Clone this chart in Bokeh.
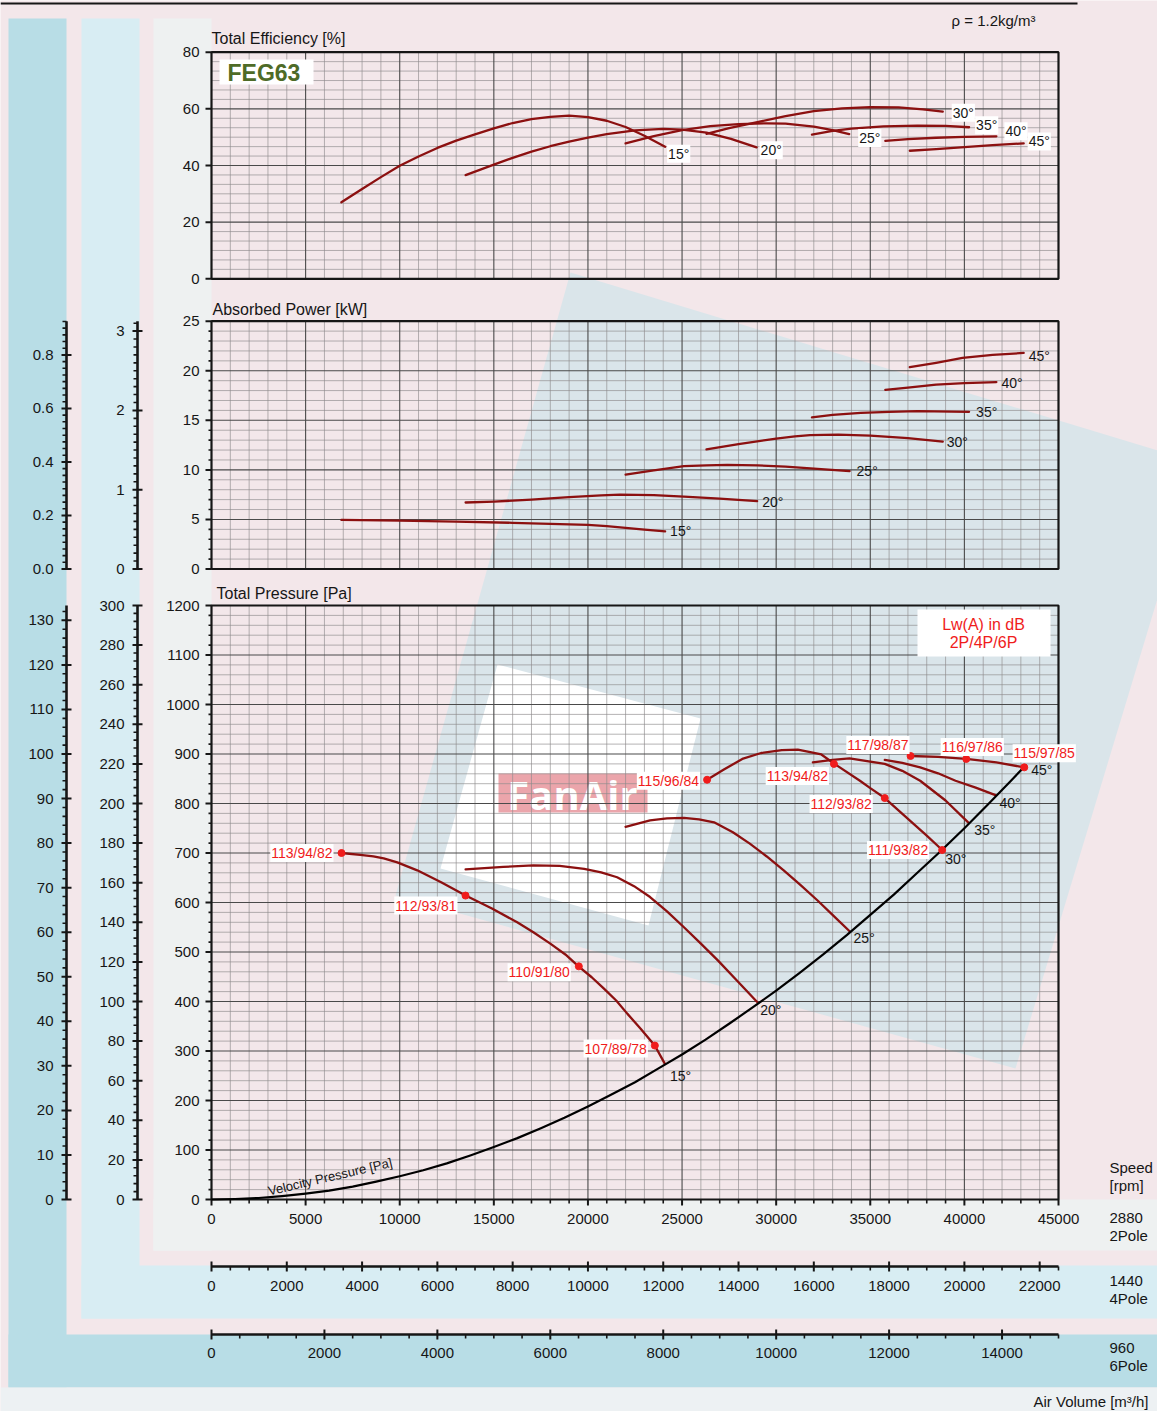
import numpy as np
from bokeh.plotting import figure
from bokeh.models import Range1d
from bokeh.core.properties import value
from bokeh.embed import file_html
from bokeh.resources import INLINE

# ------------------------------------------------------------------ data
# FEG63 axial fan, curves for 2880 rpm (2-pole); air volume q in m³/h
angles = ["15°", "20°", "25°", "30°", "35°", "40°", "45°"]

# total efficiency [%]
eta15_q = [6900, 8000, 9000, 10000, 11000, 12000, 13000, 14000, 15000, 16000, 17000, 18000, 19000,
           20000, 21000, 22000, 23000, 24100]
eta15 = [27.0, 31.7, 35.9, 39.9, 43.2, 46.2, 48.8, 51.0, 53.1, 55.0, 56.4, 57.2, 57.6,
         57.1, 55.8, 53.6, 50.5, 46.6]
eta20_q = [13500, 15000, 16000, 17000, 18000, 19000, 20000, 21000, 22500, 24000, 25000, 26300, 27600, 28960]
eta20 = [36.6, 40.3, 42.7, 44.9, 46.8, 48.4, 49.8, 51.1, 52.4, 52.9, 52.7, 51.6, 49.4, 46.4]
eta25_q = [22000, 23500, 25000, 26500, 28000, 29500, 30500, 32000, 33000, 33880]
eta25 = [47.8, 50.4, 52.5, 53.9, 54.6, 54.9, 54.8, 53.7, 52.5, 51.1]
eta30_q = [26300, 27500, 29000, 30500, 32000, 33500, 35000, 36500, 37800, 38850]
eta30 = [51.2, 53.2, 55.3, 57.4, 59.2, 60.2, 60.6, 60.5, 59.8, 59.0]
eta35_q = [31900, 33000, 34000, 35700, 37500, 39000, 40250]
eta35 = [50.9, 52.2, 53.0, 53.8, 54.1, 54.0, 53.5]
eta40_q = [35800, 37000, 38500, 40000, 41700]
eta40 = [48.7, 49.3, 49.8, 50.1, 50.3]
eta45_q = [37100, 38500, 40000, 41500, 43150]
eta45 = [45.2, 45.8, 46.5, 47.2, 47.8]

# absorbed power [kW]
pw15_q = [6900, 10000, 13000, 16000, 18000, 20000, 21000, 22000, 23000, 24100]
pw15 = [4.95, 4.88, 4.78, 4.66, 4.56, 4.45, 4.32, 4.15, 3.98, 3.80]
pw20_q = [13500, 15000, 17000, 19000, 20700, 21700, 23500, 25100, 27000, 28990]
pw20 = [6.71, 6.80, 7.00, 7.25, 7.42, 7.50, 7.45, 7.31, 7.10, 6.84]
pw25_q = [22000, 23500, 25100, 26300, 27400, 29000, 30500, 32200, 33900]
pw25 = [9.53, 9.95, 10.37, 10.46, 10.50, 10.45, 10.33, 10.10, 9.87]
pw30_q = [26300, 28000, 30000, 31000, 31800, 33300, 35000, 37000, 38850]
pw30 = [12.06, 12.60, 13.15, 13.38, 13.50, 13.55, 13.45, 13.20, 12.86]
pw35_q = [31900, 33000, 34500, 36000, 37500, 40250]
pw35 = [15.30, 15.55, 15.75, 15.85, 15.92, 15.86]
pw40_q = [35800, 37000, 38500, 40000, 41700]
pw40 = [18.08, 18.30, 18.60, 18.75, 18.85]
pw45_q = [37100, 38500, 39900, 41500, 43150]
pw45 = [20.36, 20.80, 21.30, 21.60, 21.80]

# total pressure [Pa]
pt15_q = [6900, 7900, 8600, 9150, 9870, 10930, 12200, 13500, 14900, 16240, 17100, 18000, 18800,
          19500, 20200, 20850, 21500, 22100, 22800, 23550, 24090]
pt15 = [700, 696, 693, 689, 681, 665, 641, 614, 588, 560, 540, 517, 495,
        471, 449, 426, 402, 375, 345, 311, 274]
pt20_q = [13500, 15500, 17100, 18500, 19800, 20700, 21550, 22450, 23300, 24200, 25100, 26000,
          26900, 27900, 28990]
pt20 = [667, 672, 675, 674, 668, 661, 651, 633, 611, 582, 550, 517, 483, 443, 399]
pt25_q = [22000, 23300, 24200, 25100, 25900, 26700, 27700, 28600, 29500, 30400, 31300, 32200,
          33050, 33900]
pt25 = [753, 766, 770, 771, 768, 762, 742, 719, 693, 665, 635, 604, 573, 542]
pt30_q = [26330, 27200, 28200, 29200, 30300, 31150, 32400, 33100, 34450, 35000, 35770, 37300,
          38000, 38820]
pt30 = [848, 868, 890, 902, 908, 909, 899, 880, 846, 831, 811, 759, 735, 706]
pt35_q = [31950, 33000, 33900, 35770, 36700, 37650, 39000, 40200]
pt35 = [883, 888, 891, 880, 866, 846, 806, 762]
pt40_q = [35770, 36700, 37650, 38600, 39530, 40600, 41650]
pt40 = [888, 882, 873, 861, 846, 832, 817]
pt45_q = [37140, 38600, 40100, 41700, 43180]
pt45 = [896, 894, 890, 883, 873]

# velocity pressure [Pa]
vp_q = [0, 1250, 2500, 3750, 5000, 6250, 7500, 8750, 10000, 11250, 12500, 13750, 15000, 16250,
        17500, 18750, 20000, 21250, 22500, 23750, 25000, 26250, 27500, 28750, 30000, 31250,
        32500, 33750, 35000, 36250, 37500, 38750, 40000, 41250, 42500, 43300]
vp = [0, 1, 3, 7, 12, 18, 26, 36, 47, 59, 73, 89, 106, 124, 144, 165, 188, 212, 237, 265,
      293, 323, 355, 388, 422, 458, 495, 534, 575, 616, 660, 704, 750, 798, 847, 879]

# sound power Lw(A) in dB, 2P/4P/6P, at marked duty points
lw_q = [6907, 13495, 19515, 23555, 26330, 33070, 35770, 38820, 37140, 40100, 43180]
lw_p = [700, 614, 471, 311, 848, 880, 811, 706, 896, 890, 873]
lw_txt = ["113/94/82", "112/93/81", "110/91/80", "107/89/78", "115/96/84", "113/94/82",
          "112/93/82", "111/93/82", "117/98/87", "116/97/86", "115/97/85"]

# axis tick labels
eff_ticks = [0, 20, 40, 60, 80]
pow_ticks = [0, 5, 10, 15, 20, 25]
pt_ticks = [0, 100, 200, 300, 400, 500, 600, 700, 800, 900, 1000, 1100, 1200]
pow4_ticks = [0, 1, 2, 3]
pow6_ticks = [0.0, 0.2, 0.4, 0.6, 0.8]
pt4_ticks = [0, 20, 40, 60, 80, 100, 120, 140, 160, 180, 200, 220, 240, 260, 280, 300]
pt6_ticks = [0, 10, 20, 30, 40, 50, 60, 70, 80, 90, 100, 110, 120, 130]
q2_ticks = [0, 5000, 10000, 15000, 20000, 25000, 30000, 35000, 40000, 45000]
q4_ticks = [0, 2000, 4000, 6000, 8000, 10000, 12000, 14000, 16000, 18000, 20000, 22000]
q6_ticks = [0, 2000, 4000, 6000, 8000, 10000, 12000, 14000]
speeds = [("2880", "2Pole"), ("1440", "4Pole"), ("960", "6Pole")]

Q_MAX, EFF_MAX, POW_MAX, PT_MAX = 45000, 80, 25, 1200
R4, R6 = 2880 / 1440, 2880 / 960

# ------------------------------------------------------------------ layout / style
W, H = 1157, 1411
XL, XR = 211, 1058
EFF_T, EFF_B = 51.7, 278.3
POW_T, POW_B = 320.7, 568.5
PT_T, PT_B = 605.0, 1199.0
AX4_X, AX6_X = 137, 66
AX4_Y, AX6_Y = 1266, 1334

FONT = value("Liberation Sans")
INK = "#161616"
CURVE = "#8c1010"
RED = "#f01c1c"
BG = "#f3e7ea"
GRID_MINOR = "#8e8a8c"
GRID_MAJOR = "#4a4a4a"

# curve-end label offsets (screen px)
eff_lab_dx = [2, 3, 9, 9, 6, 8, 4]
eff_lab_dy = [7, 3, 4, 1, -2, -5, -2]
pow_lab_dx = [5, 5, 7, 4, 7, 5, 5]
pow_lab_dy = [0, 1, 0, 0, 0, 1, 3]
pt_lab_dx = [5, 3, 4, 3, 6, 4, 7]
pt_lab_dy = [12, 8, 7, 9, 8, 8, 3]
lw_dx = [-8, -8, -8, -7, -7, -5, -12, -13, -1, 6, 20]
lw_dy = [0, 10, 6, 3, 1, 12, 6, 0, -11, -12, -14]
lw_align = ["right"] * 9 + ["center", "center"]


def span(v0, p0, v1, p1, lo, hi):
    k = (v1 - v0) / (p1 - p0)
    return Range1d(start=v0 + (lo - p0) * k, end=v0 + (hi - p0) * k)


p = figure(width=W, height=H, title=None,
           x_range=span(0, XL, Q_MAX, XR, 0, W),
           y_range=span(0, PT_B, PT_MAX, PT_T, H, 0),
           x_axis_location=None, y_axis_location=None, toolbar_location=None,
           output_backend="svg", min_border=0, outline_line_color=None,
           background_fill_color=BG, border_fill_color=BG)
p.grid.visible = False
p.extra_x_ranges = {
    "px": Range1d(0, W),
    "q4": span(0, XL, Q_MAX / R4, XR, 0, W),
    "q6": span(0, XL, Q_MAX / R6, XR, 0, W),
}
p.extra_y_ranges = {
    "py": Range1d(H, 0),
    "eff": span(0, EFF_B, EFF_MAX, EFF_T, H, 0),
    "pow": span(0, POW_B, POW_MAX, POW_T, H, 0),
    "pow4": span(0, POW_B, POW_MAX / R4 ** 3, POW_T, H, 0),
    "pow6": span(0, POW_B, POW_MAX / R6 ** 3, POW_T, H, 0),
    "pt4": span(0, PT_B, PT_MAX / R4 ** 2, PT_T, H, 0),
    "pt6": span(0, PT_B, PT_MAX / R6 ** 2, PT_T, H, 0),
}


def box(l, t, r, b, color, alpha=1.0):
    p.quad(left=[l], right=[r], top=[t], bottom=[b], fill_color=color, fill_alpha=alpha,
           line_color=None, x_range_name="px", y_range_name="py")


def label(xs, ys, texts, xr="px", yr="py", size=15, align="left", baseline="middle",
          color=INK, style="normal", font=FONT, **kw):
    p.text(x=xs, y=ys, text=texts, text_font=font, text_font_size=f"{size}px",
           text_align=align, text_baseline=baseline, text_color=color,
           text_font_style=style, x_range_name=xr, y_range_name=yr, **kw)


# ------------------------------------------------------------------ backdrop
box(8, 18, 66, 1387, "#b8dde6")
box(8, 1334, W, 1387, "#b8dde6")
box(81, 18, 139, 1318, "#d8edf3")
box(81, 1265, W, 1318, "#d8edf3")
box(153, 18, 211, 1250, "#eef1f1")
box(153, 1199, W, 1250, "#eef1f1")
box(0, 1387, W, H, "#edf1f3")

p.patch(x=[570, W, W, 1015, 395], y=[272, 450, 598, 1068, 895], fill_color="#dae5ea",
        line_color=None, x_range_name="px", y_range_name="py")
p.patch(x=[497, 700, 648, 440], y=[664, 718, 925, 868], fill_color="#ffffff",
        line_color=None, x_range_name="px", y_range_name="py")

p.segment(x0=[0], x1=[1077], y0=[3], y1=[3], line_color=INK, line_width=2,
          x_range_name="px", y_range_name="py")

# logo
box(498, 773, 647, 812, "#e8959c", 0.85)
label([572], [794], ["FanAir"], size=40, align="center", color="#ffffff", style="bold",
      font=value("Open Sans"))


# ------------------------------------------------------------------ panel grids
def panel(yr, top, major_step, n_sub):
    q_minor = [q for q in range(1000, Q_MAX, 1000) if q % 5000]
    q_major = list(range(5000, Q_MAX, 5000))
    p.segment(x0=q_minor, x1=q_minor, y0=[0] * len(q_minor), y1=[top] * len(q_minor),
              y_range_name=yr, line_color=GRID_MINOR, line_alpha=0.65, line_width=1)
    n_major = int(round(top / major_step))
    v_minor = [major_step * k / n_sub for k in range(1, n_major * n_sub) if k % n_sub]
    p.segment(x0=[0] * len(v_minor), x1=[Q_MAX] * len(v_minor), y0=v_minor, y1=v_minor,
              y_range_name=yr, line_color=GRID_MINOR, line_alpha=0.65, line_width=1)
    p.segment(x0=q_major, x1=q_major, y0=[0] * len(q_major), y1=[top] * len(q_major),
              y_range_name=yr, line_color=GRID_MAJOR, line_width=1.1)
    v_major = [major_step * k for k in range(1, n_major)]
    p.segment(x0=[0] * len(v_major), x1=[Q_MAX] * len(v_major), y0=v_major, y1=v_major,
              y_range_name=yr, line_color=GRID_MAJOR, line_width=1.1)
    p.quad(left=[0], right=[Q_MAX], bottom=[0], top=[top], fill_color=None,
           line_color=INK, line_width=2.2, y_range_name=yr)


panel("eff", EFF_MAX, 20, 6)
panel("pow", POW_MAX, 5, 5)
panel("default", PT_MAX, 100, 5)


# ------------------------------------------------------------------ scales
def vticks(x_px, vals, yr, left, right, width=1.6):
    n = len(vals)
    p.segment(x0=[x_px - left] * n, x1=[x_px + right] * n, y0=list(vals), y1=list(vals),
              x_range_name="px", y_range_name=yr, line_color=INK, line_width=width)


def hticks(y_px, vals, xr, up, down, width=1.6):
    n = len(vals)
    p.segment(x0=list(vals), x1=list(vals), y0=[y_px - up] * n, y1=[y_px + down] * n,
              x_range_name=xr, y_range_name="py", line_color=INK, line_width=width)


def minor(top, step, skip):
    vals = np.arange(0, top + 1e-9, step)
    return [v for v in vals if abs(v / skip - round(v / skip)) > 1e-6]


# main left scales
vticks(XL, eff_ticks, "eff", 6, 0, 2)
vticks(XL, pow_ticks, "pow", 6, 0, 2)
vticks(XL, minor(POW_MAX, 1, 5), "pow", 3, 0)
vticks(XL, pt_ticks, "default", 6, 0, 2)
vticks(XL, minor(PT_MAX, 20, 100), "default", 3, 0)
label([XL] * 5, eff_ticks, [str(v) for v in eff_ticks], yr="eff", align="right", x_offset=-12)
label([XL] * 6, pow_ticks, [str(v) for v in pow_ticks], yr="pow", align="right", x_offset=-12)
label([XL] * 13, pt_ticks, [str(v) for v in pt_ticks], yr="default", align="right", x_offset=-12)

# 4-pole / 6-pole scales for power and pressure
for x_px, yr, top, ticks, step, fmt in [
        (AX4_X, "pow4", POW_MAX / R4 ** 3, pow4_ticks, 0.1, "{:.0f}"),
        (AX6_X, "pow6", POW_MAX / R6 ** 3, pow6_ticks, 0.025, "{:.1f}"),
        (AX4_X, "pt4", PT_MAX / R4 ** 2, pt4_ticks, 4, "{:.0f}"),
        (AX6_X, "pt6", PT_MAX / R6 ** 2, pt6_ticks, 2, "{:.0f}")]:
    p.segment(x0=[x_px], x1=[x_px], y0=[0], y1=[top], x_range_name="px", y_range_name=yr,
              line_color=INK, line_width=2.6)
    major_step = ticks[1] - ticks[0]
    vticks(x_px, ticks, yr, 5, 5, 2)
    vticks(x_px, minor(top, step, major_step), yr, 4, 0)
    label([x_px] * len(ticks), ticks, [fmt.format(v) for v in ticks], yr=yr, align="right",
          x_offset=-13)

# air volume scales
hticks(PT_B, q2_ticks, "default", 0, 6, 2)
hticks(PT_B, minor(Q_MAX, 1000, 5000), "default", 0, 4)
label(q2_ticks, [1218] * len(q2_ticks), [str(v) for v in q2_ticks], xr="default", align="center")

for y_px, xr, top, ticks, lab_y in [(AX4_Y, "q4", Q_MAX / R4, q4_ticks, 1285),
                                     (AX6_Y, "q6", Q_MAX / R6, q6_ticks, 1352)]:
    p.segment(x0=[0], x1=[top], y0=[y_px], y1=[y_px], x_range_name=xr, y_range_name="py",
              line_color=INK, line_width=2.6)
    hticks(y_px, ticks, xr, 5, 5, 2)
    hticks(y_px, minor(top, 500, 2000), xr, 0, 4)
    label(ticks, [lab_y] * len(ticks), [str(v) for v in ticks], xr=xr, align="center")

label([1109, 1109], [1167, 1185], ["Speed", "[rpm]"])
for (rpm, pole), y0 in zip(speeds, [1217, 1280, 1347]):
    label([1109, 1109], [y0, y0 + 18], [rpm, pole])
label([1148], [1401], ["Air Volume [m³/h]"], align="right")

# titles
label([211], [38], ["Total Efficiency [%]"], size=16)
label([212], [309], ["Absorbed Power [kW]"], size=16)
label([216], [593], ["Total Pressure [Pa]"], size=16)
label([1035], [20], ["ρ = 1.2kg/m³"], align="right")

box(219, 59, 313, 84, "#ffffff")
label([227], [72], ["FEG63"], size=23, style="bold", color="#4e6b27")

box(917, 609, 1050, 656, "#ffffff")
label([983, 983], [624, 642], ["Lw(A) in dB", "2P/4P/6P"], size=16, align="center", color=RED)

# ------------------------------------------------------------------ curves
eff_curves = [(eta15_q, eta15), (eta20_q, eta20), (eta25_q, eta25), (eta30_q, eta30),
              (eta35_q, eta35), (eta40_q, eta40), (eta45_q, eta45)]
pow_curves = [(pw15_q, pw15), (pw20_q, pw20), (pw25_q, pw25), (pw30_q, pw30),
              (pw35_q, pw35), (pw40_q, pw40), (pw45_q, pw45)]
pt_curves = [(pt15_q, pt15), (pt20_q, pt20), (pt25_q, pt25), (pt30_q, pt30),
             (pt35_q, pt35), (pt40_q, pt40), (pt45_q, pt45)]

for curves, yr in [(eff_curves, "eff"), (pow_curves, "pow"), (pt_curves, "default")]:
    for q, v in curves:
        p.line(q, v, y_range_name=yr, line_color=CURVE, line_width=2.3, line_join="round",
               line_cap="round")

p.line(vp_q, vp, line_color="#000000", line_width=2.2, line_join="round")
label([6300], [46], ["Velocity Pressure [Pa]"], xr="default", yr="default", size=13,
      align="center", angle=0.23)

label([q[-1] for q, v in eff_curves], [v[-1] for q, v in eff_curves], angles, xr="default",
      yr="eff", size=14, x_offset=eff_lab_dx, y_offset=eff_lab_dy,
      background_fill_color="#ffffff", padding=1)
label([q[-1] for q, v in pow_curves], [v[-1] for q, v in pow_curves], angles, xr="default",
      yr="pow", size=14, x_offset=pow_lab_dx, y_offset=pow_lab_dy)
label([q[-1] for q, v in pt_curves], [v[-1] for q, v in pt_curves], angles, xr="default",
      yr="default", size=14, x_offset=pt_lab_dx, y_offset=pt_lab_dy)

# sound power duty points
p.scatter(lw_q, lw_p, size=7, color=RED)
label(lw_q, lw_p, lw_txt, xr="default", yr="default", size=14, color=RED, align=lw_align,
      x_offset=lw_dx, y_offset=lw_dy, background_fill_color="#ffffff", padding=1)

open("out.html", "w").write(file_html(p, INLINE))
